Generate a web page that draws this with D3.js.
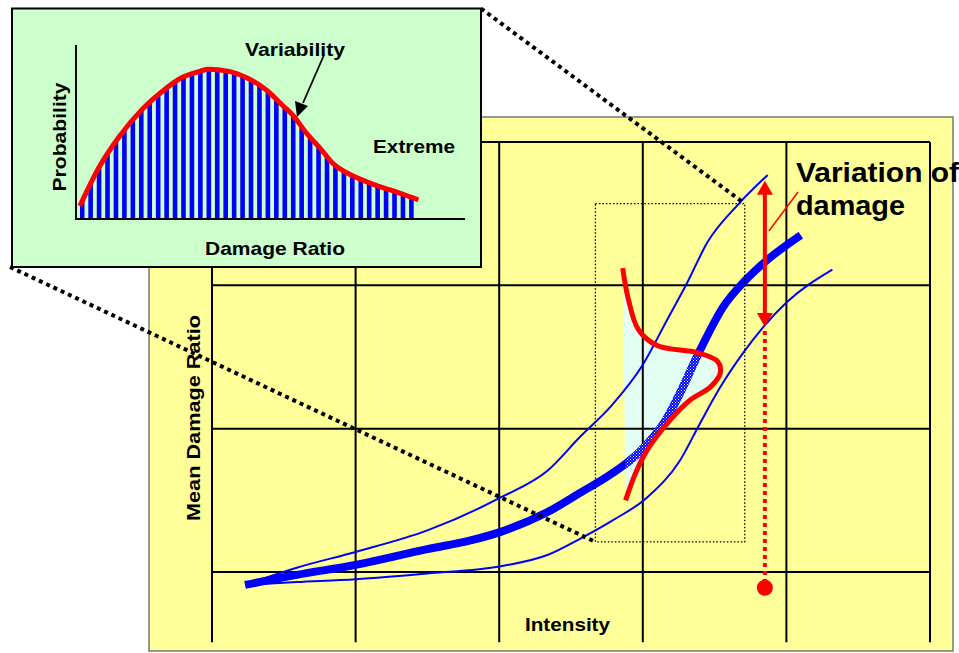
<!DOCTYPE html>
<html><head><meta charset="utf-8">
<script src="https://cdn.jsdelivr.net/npm/d3@7"></script>
<style>html,body{margin:0;padding:0;background:#fff;overflow:hidden}svg{display:block}text{font-family:"Liberation Sans",Arial,sans-serif;font-weight:bold}</style>
</head><body>
<script>
// ---- Data ----
// Main chart: intensity (x, grid units 0..5) vs mean damage ratio (y, grid units 0..3)
const gridX = [0, 1, 2, 3, 4, 5];
const gridY = [0, 1, 2, 3];
const meanX = [0.23, 0.59, 1.00, 1.50, 1.80, 2.01, 2.34, 2.56, 2.79, 2.99, 3.16, 3.26, 3.40, 3.56, 3.70, 3.87, 4.10];
const meanY = [-0.09, -0.02, 0.05, 0.16, 0.22, 0.28, 0.42, 0.55, 0.69, 0.85, 1.06, 1.25, 1.55, 1.85, 2.02, 2.18, 2.35];
const upperX = [0.23, 0.59, 1.00, 1.50, 2.01, 2.34, 2.56, 2.79, 2.99, 3.17, 3.31, 3.45, 3.66, 3.87];
const upperY = [-0.09, 0.03, 0.14, 0.29, 0.52, 0.71, 0.94, 1.17, 1.43, 1.76, 2.02, 2.30, 2.56, 2.77];
const lowerX = [0.23, 0.59, 1.00, 1.50, 2.01, 2.34, 2.56, 2.79, 3.03, 3.26, 3.40, 3.54, 3.70, 3.84, 4.00, 4.32];
const lowerY = [-0.09, -0.07, -0.05, -0.01, 0.04, 0.12, 0.23, 0.36, 0.52, 0.78, 1.04, 1.29, 1.53, 1.71, 1.88, 2.11];
const distX = [2.86, 2.90, 2.97, 3.10, 3.38, 3.52, 3.54, 3.47, 3.33, 3.19, 3.03, 2.95, 2.88];
const distY = [2.12, 1.90, 1.69, 1.58, 1.53, 1.47, 1.39, 1.29, 1.20, 1.06, 0.85, 0.69, 0.50];
const zoomBox = {x0: 2.67, x1: 3.71, y0: 0.21, y1: 2.57};
const variationX = 3.85, variationTop = 2.73, variationBottom = 1.71, variationDot = -0.11;
// Inset: damage ratio (0..100) vs probability (0..100)
const insetDamage = [1, 6, 11, 17, 22, 27, 32, 34, 39, 44, 49, 53, 56, 59, 63, 66, 71, 77, 83, 88];
const insetProb = [7.5, 30, 47, 63, 73, 81, 85, 86, 85, 81, 74, 65.5, 59, 50, 40, 32, 25, 19.5, 15, 11];
const labels = {
  x: "Intensity", y: "Mean Damage Ratio", insetX: "Damage Ratio", insetY: "Probability",
  variability: "Variability", extreme: "Extreme", variation1: "Variation of", variation2: "damage"
};

const W = 959, H = 653;
const svg = d3.select("body").append("svg").attr("width", W).attr("height", H);
const defs = svg.append("defs");

// patterns
const pDots = defs.append("pattern").attr("id", "cyanDots").attr("width", 2).attr("height", 2).attr("patternUnits", "userSpaceOnUse");
pDots.append("rect").attr("width", 1).attr("height", 1).attr("fill", "#e4fff4");
pDots.append("rect").attr("x", 1).attr("y", 1).attr("width", 1).attr("height", 1).attr("fill", "#f2ffd8");
const pBlue = defs.append("pattern").attr("id", "blueDots").attr("width", 3).attr("height", 3).attr("patternUnits", "userSpaceOnUse");
pBlue.append("rect").attr("width", 3).attr("height", 3).attr("fill", "#0000ff");
pBlue.append("rect").attr("width", 1).attr("height", 1).attr("fill", "#ffffff");
pBlue.append("rect").attr("x", 1.5).attr("y", 1.5).attr("width", 1).attr("height", 1).attr("fill", "#bfe8ff");

// ---- Main chart ----
const xI = d3.scaleLinear().domain([0, 5]).range([212, 930]);
const yM = d3.scaleLinear().domain([0, 3]).range([572, 142]);

svg.append("rect").attr("x", 149).attr("y", 117).attr("width", 804).attr("height", 534)
  .attr("fill", "#ffff99").attr("stroke", "#777").attr("stroke-width", 1.5);

const line = d3.line().x(d => xI(d[0])).y(d => yM(d[1])).curve(d3.curveMonotoneX);
const loopLine = d3.line().x(d => xI(d[0])).y(d => yM(d[1])).curve(d3.curveCatmullRom.alpha(0.5));
const zip = (a, b) => a.map((v, i) => [v, b[i]]);
const meanPts = zip(meanX, meanY), upperPts = zip(upperX, upperY), lowerPts = zip(lowerX, lowerY), distPts = zip(distX, distY);

// shaded distribution area (under the grid)
const distPathD = loopLine(distPts) + "Z";
defs.append("clipPath").attr("id", "distClip").append("path").attr("d", distPathD);
svg.append("path").attr("d", distPathD).attr("fill", "url(#cyanDots)");

const grid = svg.append("g").attr("stroke", "#000").attr("stroke-width", 2);
grid.selectAll("line.v").data(gridX).join("line").attr("class", "v")
  .attr("x1", d => xI(d)).attr("x2", d => xI(d)).attr("y1", yM(3)).attr("y2", yM(-0.49));
grid.selectAll("line.h").data(gridY).join("line").attr("class", "h")
  .attr("x1", xI(0)).attr("x2", xI(5)).attr("y1", d => yM(d)).attr("y2", d => yM(d));

svg.append("path").attr("d", line(upperPts)).attr("fill", "none").attr("stroke", "#0000ff").attr("stroke-width", 2);
svg.append("path").attr("d", line(lowerPts)).attr("fill", "none").attr("stroke", "#0000ff").attr("stroke-width", 2);
svg.append("path").attr("d", line(meanPts)).attr("fill", "none").attr("stroke", "#0000ff").attr("stroke-width", 8);
svg.append("path").attr("d", line(meanPts)).attr("fill", "none").attr("stroke", "url(#blueDots)").attr("stroke-width", 8)
  .attr("clip-path", "url(#distClip)");

svg.append("path").attr("d", loopLine(distPts)).attr("fill", "none").attr("stroke", "#ff0000").attr("stroke-width", 5);

// dotted zoom rect
svg.append("rect").attr("x", xI(zoomBox.x0)).attr("y", yM(zoomBox.y1))
  .attr("width", xI(zoomBox.x1) - xI(zoomBox.x0)).attr("height", yM(zoomBox.y0) - yM(zoomBox.y1))
  .attr("fill", "none").attr("stroke", "#000").attr("stroke-width", 1.3).attr("stroke-dasharray", "1.5,2");

// variation arrow
const vx = xI(variationX);
svg.append("line").attr("x1", vx).attr("x2", vx).attr("y1", yM(variationTop) + 12).attr("y2", yM(variationBottom) - 12)
  .attr("stroke", "#ff0000").attr("stroke-width", 4);
svg.append("path").attr("fill", "#ff0000")
  .attr("d", `M${vx},${yM(variationTop)} L${vx - 8},${yM(variationTop) + 14} L${vx + 8},${yM(variationTop) + 14} Z`);
svg.append("path").attr("fill", "#ff0000")
  .attr("d", `M${vx},${yM(variationBottom)} L${vx - 8},${yM(variationBottom) - 14} L${vx + 8},${yM(variationBottom) - 14} Z`);
svg.append("line").attr("x1", vx).attr("x2", vx).attr("y1", yM(variationBottom) + 4).attr("y2", yM(variationDot) - 6)
  .attr("stroke", "#ff0000").attr("stroke-width", 4).attr("stroke-dasharray", "4,4");
svg.append("circle").attr("cx", vx).attr("cy", yM(variationDot)).attr("r", 8).attr("fill", "#ff0000");
svg.append("line").attr("x1", 798).attr("y1", 192).attr("x2", vx + 4).attr("y2", 231)
  .attr("stroke", "#ff0000").attr("stroke-width", 1.5);

// axis labels main
svg.append("text").attr("x", 525).attr("y", 631).attr("font-size", 19).attr("textLength", 85)
  .attr("lengthAdjust", "spacingAndGlyphs").text(labels.x);
svg.append("text").attr("transform", "translate(200,418) rotate(-90)").attr("text-anchor", "middle")
  .attr("font-size", 19).attr("textLength", 206).attr("lengthAdjust", "spacingAndGlyphs").text(labels.y);

// ---- Inset ----
const inset = {x: 12, y: 8.5, w: 469, h: 258.5};
// connectors
const conn = svg.append("g").attr("stroke", "#000").attr("stroke-width", 4).attr("stroke-dasharray", "4,4");
conn.append("line").attr("x1", inset.x + inset.w).attr("y1", inset.y).attr("x2", xI(zoomBox.x1)).attr("y2", yM(zoomBox.y1));
conn.append("line").attr("x1", inset.x - 2).attr("y1", inset.y + inset.h).attr("x2", xI(zoomBox.x0)).attr("y2", yM(zoomBox.y0));

svg.append("rect").attr("x", inset.x).attr("y", inset.y).attr("width", inset.w).attr("height", inset.h)
  .attr("fill", "#ccffcc").attr("stroke", "#000").attr("stroke-width", 2);

const xD = d3.scaleLinear().domain([0, 100]).range([76, 465]);
const yP = d3.scaleLinear().domain([0, 100]).range([219, 45]);
const insetPts = zip(insetDamage, insetProb);
const iLine = d3.line().x(d => xD(d[0])).y(d => yP(d[1])).curve(d3.curveMonotoneX);
const iArea = d3.area().x(d => xD(d[0])).y0(yP(0)).y1(d => yP(d[1])).curve(d3.curveMonotoneX);
defs.append("clipPath").attr("id", "insetClip").append("path").attr("d", iArea(insetPts));
const barStarts = d3.range(insetDamage[0], insetDamage[insetDamage.length - 1] - 0.5, 2.17);
svg.append("g").attr("clip-path", "url(#insetClip)").selectAll("rect").data(barStarts).join("rect")
  .attr("x", d => xD(d)).attr("y", yP(100)).attr("width", 4.6).attr("height", yP(0) - yP(100)).attr("fill", "#0000ff");
svg.append("path").attr("d", iLine(insetPts)).attr("fill", "none").attr("stroke", "#ff0000").attr("stroke-width", 5);

svg.append("path").attr("d", `M${xD(0)},${yP(100)} V${yP(0)} H${xD(100)}`).attr("fill", "none").attr("stroke", "#000").attr("stroke-width", 2);

// arrow
svg.append("line").attr("x1", 324).attr("y1", 55).attr("x2", 303).attr("y2", 103).attr("stroke", "#000").attr("stroke-width", 1.8);
svg.append("path").attr("d", "M297,117 L295,101 L308,106 Z").attr("fill", "#000");

svg.append("text").attr("x", 245).attr("y", 56).attr("font-size", 19).attr("textLength", 100).attr("lengthAdjust", "spacingAndGlyphs").text(labels.variability);
svg.append("text").attr("x", 373).attr("y", 153).attr("font-size", 19).attr("textLength", 82).attr("lengthAdjust", "spacingAndGlyphs").text(labels.extreme);
svg.append("text").attr("x", 205).attr("y", 255).attr("font-size", 19).attr("textLength", 140).attr("lengthAdjust", "spacingAndGlyphs").text(labels.insetX);
svg.append("text").attr("transform", "translate(66,137) rotate(-90)").attr("text-anchor", "middle")
  .attr("font-size", 19).attr("textLength", 109).attr("lengthAdjust", "spacingAndGlyphs").text(labels.insetY);

// variation label
svg.append("text").attr("x", 796).attr("y", 182).attr("font-size", 28).attr("textLength", 163).attr("lengthAdjust", "spacingAndGlyphs").text(labels.variation1);
svg.append("text").attr("x", 796).attr("y", 215).attr("font-size", 28).attr("textLength", 109).attr("lengthAdjust", "spacingAndGlyphs").text(labels.variation2);
</script>
</body></html>
